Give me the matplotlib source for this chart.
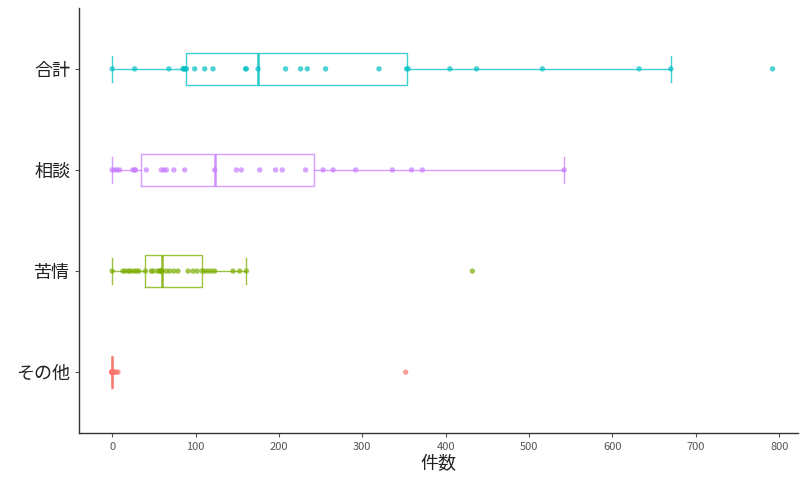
import matplotlib
matplotlib.use("Agg")
import matplotlib.pyplot as plt
import numpy as np

plt.rcParams['font.family'] = ['Noto Sans CJK JP', 'DejaVu Sans']

categories = ['その他', '苦情', '相談', '合計']  # bottom to top
colors = ['#F8766D', '#7CAE00', '#C77CFF', '#00BFC4']

total = [0, 27, 68, 85, 86, 87, 88, 89, 99, 111, 121, 160, 161, 175,
         208, 226, 234, 256, 320, 353, 355, 405, 437, 516, 632, 670, 792]
consult = [0, 3, 6, 9, 25, 27, 28, 41, 59, 62, 65, 74, 87, 123,
           149, 155, 177, 196, 204, 232, 253, 265, 292, 336, 359, 372, 542]
complaint = [0, 13, 16, 20, 22, 26, 29, 32, 40, 47, 49, 54, 57, 58, 59, 59, 60,
             65, 69, 74, 79, 91, 97, 102, 108, 111, 115, 119, 123, 145, 153, 161, 432]
other = [0, 0, 0, 0, 0, 0, 0, 0, 0, 0, 0, 0, 0, 0, 0, 0, 0, 0, 0, 0,
         0, 1, 2, 3, 5, 7, 352]

data = [other, complaint, consult, total]
xticks = [0, 100, 200, 300, 400, 500, 600, 700, 800]

fig = plt.figure(figsize=(8, 4.82), dpi=100)
ax = fig.add_axes([0.099, 0.102, 0.899, 0.881])

for i, (vals, c) in enumerate(zip(data, colors)):
    bp = ax.boxplot([vals], positions=[i], vert=False, widths=0.32,
                    whis=1.5, showfliers=False, patch_artist=False,
                    boxprops=dict(color=c, linewidth=1.0, alpha=0.75),
                    whiskerprops=dict(color=c, linewidth=1.0, alpha=0.75),
                    capprops=dict(color=c, linewidth=1.0, alpha=0.75),
                    medianprops=dict(color=c, linewidth=1.8, alpha=0.85),
                    capwidths=0.26)
    ax.scatter(vals, np.full(len(vals), i), s=15, color=c, alpha=0.7,
               edgecolors='none', zorder=3)

ax.set_ylim(-0.6, 3.6)
ax.set_xlim(-39.5, 823)
ax.set_yticks(range(len(categories)))
ax.set_yticklabels(categories, fontsize=13, color='#222222')
ax.set_xticks(xticks)
ax.set_xticklabels([str(t) for t in xticks], fontsize=8, color='#555555')
ax.set_xlabel('件数', fontsize=13, color='#222222', labelpad=2)
ax.tick_params(axis='x', length=3, color='#555555', width=0.8)
ax.tick_params(axis='y', length=3, color='#555555', width=0.8)
for s in ['top', 'right']:
    ax.spines[s].set_visible(False)
for s in ['left', 'bottom']:
    ax.spines[s].set_color('#333333')
    ax.spines[s].set_linewidth(1.0)

fig.savefig('out.png', dpi=100)
